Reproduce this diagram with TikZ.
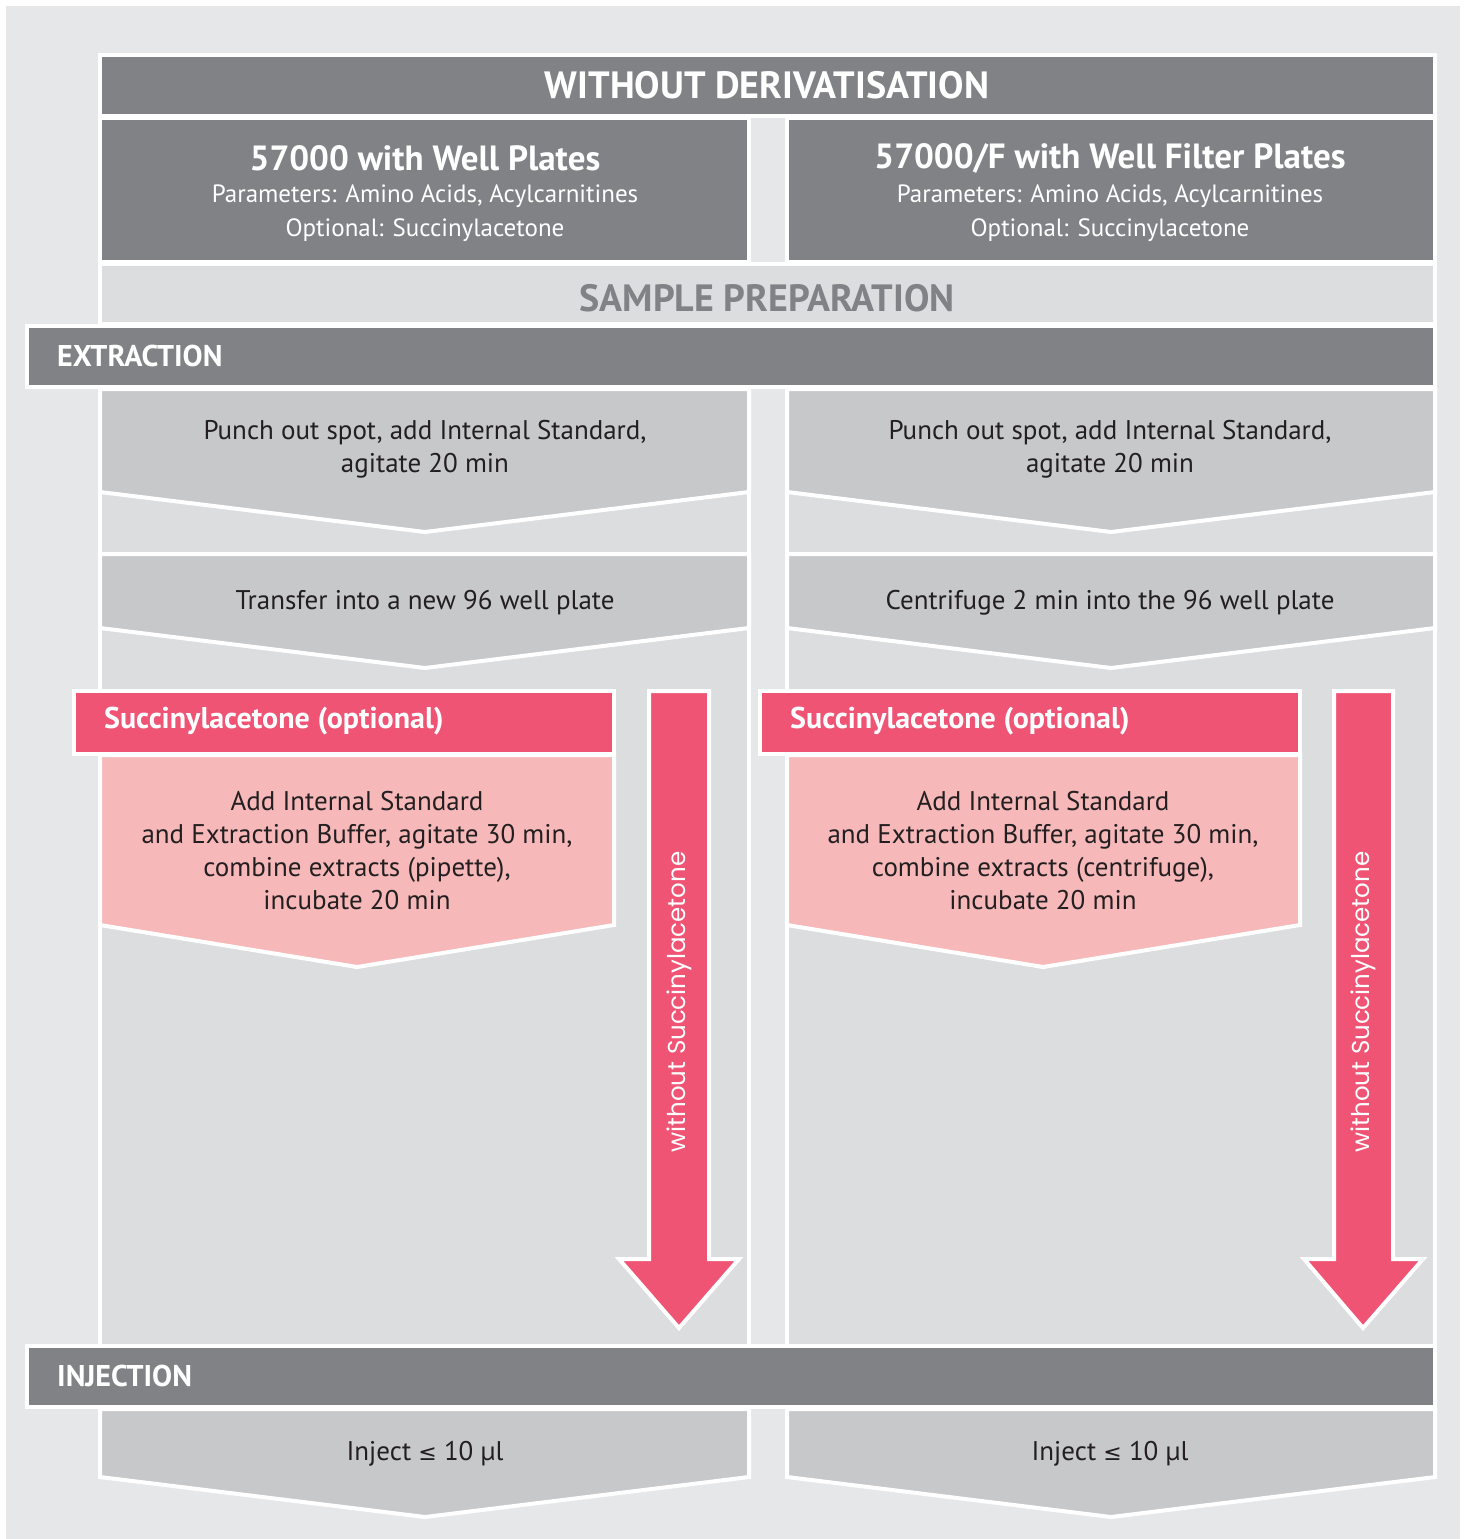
\documentclass[tikz,border=0pt]{standalone}
\usepackage{fontspec}
\setmainfont{PT Sans}
\newfontfamily\geofont{Poppins}
\newfontfamily\symfont{DejaVu Sans}
\definecolor{pagebg}{HTML}{E6E7E8}
\definecolor{bargray}{HTML}{818286}
\definecolor{colgray}{HTML}{DCDDDF}
\definecolor{stepgray}{HTML}{C7C8CA}
\definecolor{succred}{HTML}{EF5475}
\definecolor{succpink}{HTML}{F7B8BA}
\definecolor{inktext}{HTML}{231F20}
\begin{document}
\begin{tikzpicture}[x=1pt,y=-1pt,
  frame/.style={draw=white,line width=4pt},
  bar/.style={frame,fill=bargray},
  column/.style={frame,fill=colgray},
  stepbox/.style={frame,fill=stepgray},
  redbox/.style={frame,fill=succred},
  pinkbox/.style={frame,fill=succpink},
  bodytext/.style={text=inktext,align=center,font=\fontsize{27}{33}\selectfont},
  headtext/.style={text=white,align=center,font=\bfseries\fontsize{35}{38}\selectfont},
  subtext/.style={text=white,align=center,font=\fontsize{25}{34}\selectfont},
  bartext/.style={text=white,anchor=west,inner sep=0pt,font=\bfseries\fontsize{30}{32}\selectfont},
  skiptext/.style={text=white,rotate=90,font=\geofont\fontsize{24.5}{28}\selectfont}]
\useasboundingbox (0,0) rectangle (1468,1539);
\fill[white] (0,0) rectangle (1468,1539);
\fill[pagebg] (6,6) rectangle (1460,1539);

% columns
\draw[column] (100,116) rectangle (749,1346);
\draw[column] (787,116) rectangle (1435,1346);

% top bars
\draw[bar] (100,55) rectangle (1435,116);
\draw (767,85) node[headtext,font=\bfseries\fontsize{38}{40}\selectfont] (title) {WITHOUT DERIVATISATION};

\draw[bar] (100,118) rectangle (749,262);
\draw[bar] (787,118) rectangle (1435,262);
\draw (425,158) node[headtext] (kitL) {57000 with Well Plates};
\draw (425,196) node[subtext] (parL) {Parameters: Amino Acids, Acylcarnitines};
\draw (425,230) node[subtext] (optL) {Optional: Succinylacetone};
\draw (1110,158) node[headtext] (kitR) {57000/F with Well Filter Plates};
\draw (1110,196) node[subtext] (parR) {Parameters: Amino Acids, Acylcarnitines};
\draw (1110,230) node[subtext] (optR) {Optional: Succinylacetone};

\draw[column] (100,264) rectangle (1435,324);
\draw (767,298) node[headtext,text=bargray,font=\bfseries\fontsize{38}{40}\selectfont] (prep) {SAMPLE PREPARATION};

% extraction
\draw[stepbox] (100,389) -- (749,389) -- (749,492) -- (425,532) -- (100,492) -- cycle;
\draw[stepbox] (787,389) -- (1435,389) -- (1435,492) -- (1111,532) -- (787,492) -- cycle;
\draw (425,449) node[bodytext] (punchL) {Punch out spot, add Internal Standard,\\agitate 20 min};
\draw (1110,449) node[bodytext] (punchR) {Punch out spot, add Internal Standard,\\agitate 20 min};

\draw[stepbox] (100,554) -- (749,554) -- (749,628) -- (425,668) -- (100,628) -- cycle;
\draw[stepbox] (787,554) -- (1435,554) -- (1435,628) -- (1111,668) -- (787,628) -- cycle;
\draw (425,603) node[bodytext] (moveL) {Transfer into a new 96 well plate};
\draw (1110,603) node[bodytext] (moveR) {Centrifuge 2 min into the 96 well plate};

\draw[bar] (27,326) rectangle (1435,387);
\draw (57,356) node[bartext] (extract) {EXTRACTION};

% succinylacetone
\draw[pinkbox] (100,755) -- (614,755) -- (614,925) -- (357,967) -- (100,925) -- cycle;
\draw[pinkbox] (787,755) -- (1300,755) -- (1300,925) -- (1043,967) -- (787,925) -- cycle;
\draw[redbox] (74,691) rectangle (614,754);
\draw[redbox] (760,691) rectangle (1300,754);
\draw (104,721) node[bartext] (optHeadL) {Succinylacetone (optional)};
\draw (790,721) node[bartext] (optHeadR) {Succinylacetone (optional)};
\draw (357,851) node[bodytext] (addL) {Add Internal Standard\\and Extraction Buffer, agitate 30 min,\\combine extracts (pipette),\\incubate 20 min};
\draw (1043,851) node[bodytext] (addR) {Add Internal Standard\\and Extraction Buffer, agitate 30 min,\\combine extracts (centrifuge),\\incubate 20 min};

\draw[redbox] (649,691) -- (709,691) -- (709,1259) -- (739,1259) -- (679,1328) -- (619,1259) -- (649,1259) -- cycle;
\draw[redbox] (1334,691) -- (1393,691) -- (1393,1259) -- (1423,1259) -- (1363,1328) -- (1304,1259) -- (1334,1259) -- cycle;
\draw (679,1002) node[skiptext] (skipL) {without Succinylacetone};
\draw (1363,1002) node[skiptext] (skipR) {without Succinylacetone};

% injection
\draw[stepbox] (100,1409) -- (749,1409) -- (749,1477) -- (425,1517) -- (100,1477) -- cycle;
\draw[stepbox] (787,1409) -- (1435,1409) -- (1435,1477) -- (1111,1517) -- (787,1477) -- cycle;
\draw (425,1454) node[bodytext] (injL) {Inject {\symfont\fontsize{22}{33}\selectfont ≤} 10 µl};
\draw (1110,1454) node[bodytext] (injR) {Inject {\symfont\fontsize{22}{33}\selectfont ≤} 10 µl};

\draw[bar] (27,1346) rectangle (1435,1407);
\draw (57,1376) node[bartext] (inject) {INJECTION};
\end{tikzpicture}
\end{document}
